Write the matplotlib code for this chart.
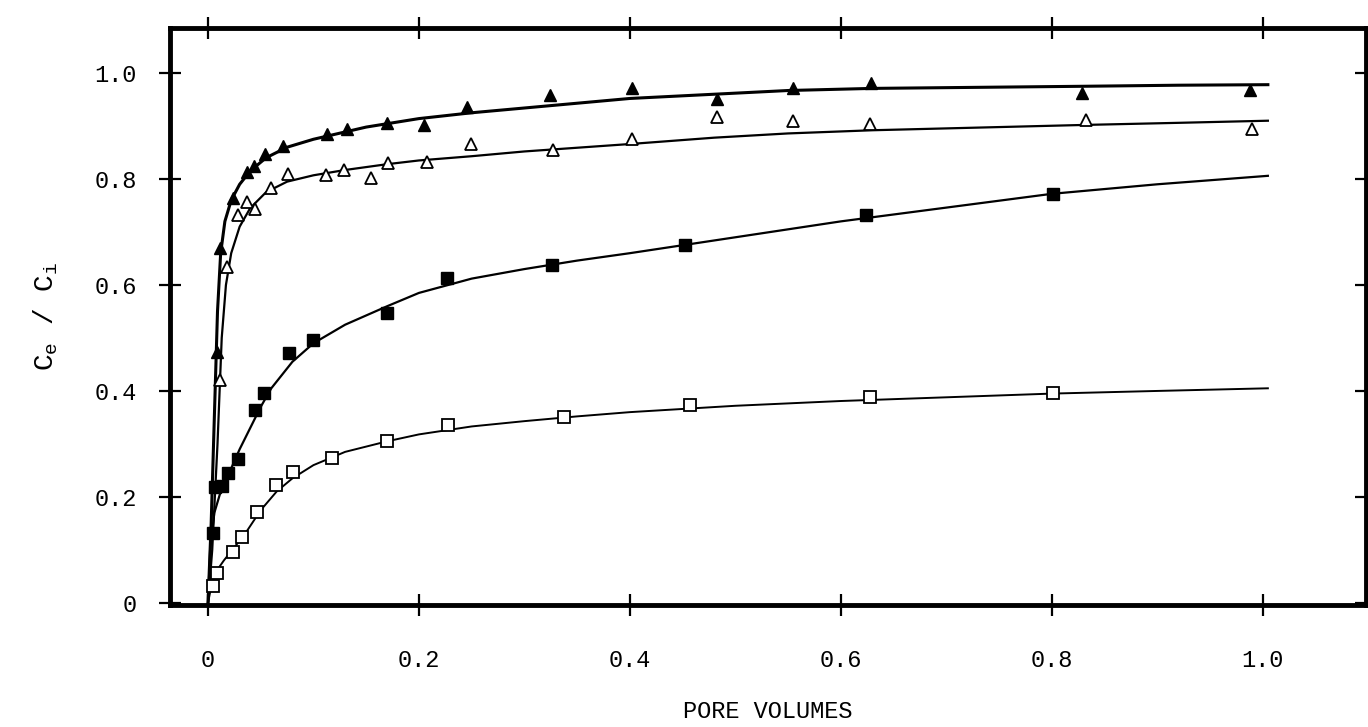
"""
Breakthrough curves: effluent / influent concentration vs. pore volumes.
"""

import matplotlib
matplotlib.use("Agg")
import matplotlib.pyplot as plt

filled_tri_x = [0.009, 0.011, 0.024, 0.037, 0.044, 0.054, 0.071, 0.113, 0.132, 0.170,
                0.205, 0.246, 0.324, 0.402, 0.483, 0.555, 0.629, 0.829, 0.988]
filled_tri_y = [0.474, 0.670, 0.764, 0.813, 0.825, 0.847, 0.862, 0.885, 0.894, 0.906,
                0.902, 0.936, 0.958, 0.972, 0.951, 0.972, 0.981, 0.962, 0.968]

open_tri_x = [0.011, 0.018, 0.028, 0.037, 0.045, 0.060, 0.076, 0.112, 0.129, 0.155,
              0.171, 0.208, 0.249, 0.327, 0.402, 0.483, 0.555, 0.628, 0.833, 0.990]
open_tri_y = [0.421, 0.634, 0.732, 0.757, 0.743, 0.783, 0.809, 0.808, 0.817, 0.802,
              0.830, 0.832, 0.866, 0.855, 0.875, 0.917, 0.909, 0.904, 0.911, 0.894]

filled_sq_x = [0.005, 0.007, 0.013, 0.019, 0.028, 0.045, 0.053, 0.077, 0.100, 0.170,
               0.227, 0.326, 0.452, 0.624, 0.801]
filled_sq_y = [0.132, 0.219, 0.221, 0.245, 0.272, 0.364, 0.396, 0.472, 0.496, 0.547,
               0.613, 0.638, 0.675, 0.732, 0.772]

open_sq_x = [0.005, 0.009, 0.024, 0.032, 0.046, 0.064, 0.081, 0.118, 0.170, 0.228,
             0.338, 0.457, 0.628, 0.801]
open_sq_y = [0.032, 0.057, 0.096, 0.125, 0.172, 0.223, 0.247, 0.274, 0.306, 0.336,
             0.351, 0.374, 0.389, 0.396]

# hand-drawn fit curves
curve_ft_x = [0.0, 0.003, 0.006, 0.009, 0.012, 0.016, 0.022, 0.030, 0.040, 0.055,
              0.075, 0.100, 0.150, 0.200, 0.250, 0.300, 0.400, 0.480, 0.550, 0.630,
              0.730, 0.830, 0.920, 1.005]
curve_ft_y = [0.0, 0.15, 0.35, 0.55, 0.66, 0.72, 0.76, 0.79, 0.815, 0.840,
              0.860, 0.875, 0.898, 0.914, 0.925, 0.934, 0.952, 0.960, 0.967, 0.971,
              0.973, 0.975, 0.977, 0.978]

curve_ot_x = [0.0, 0.004, 0.009, 0.013, 0.017, 0.022, 0.030, 0.040, 0.055, 0.075,
              0.100, 0.130, 0.170, 0.200, 0.250, 0.300, 0.400, 0.480, 0.550, 0.630,
              0.730, 0.830, 0.920, 1.005]
curve_ot_y = [0.0, 0.10, 0.30, 0.50, 0.60, 0.66, 0.71, 0.745, 0.775, 0.795,
              0.807, 0.817, 0.828, 0.835, 0.843, 0.852, 0.866, 0.878, 0.886, 0.892,
              0.897, 0.902, 0.906, 0.910]

curve_fs_x = [0.0, 0.002, 0.006, 0.012, 0.020, 0.030, 0.040, 0.050, 0.060, 0.080,
              0.100, 0.130, 0.170, 0.200, 0.250, 0.300, 0.350, 0.400, 0.450, 0.500,
              0.600, 0.700, 0.800, 0.900, 1.005]
curve_fs_y = [0.0, 0.10, 0.17, 0.21, 0.245, 0.29, 0.33, 0.37, 0.405, 0.455,
              0.490, 0.525, 0.560, 0.585, 0.612, 0.630, 0.646, 0.660, 0.675, 0.690,
              0.720, 0.746, 0.772, 0.790, 0.806]

curve_os_x = [0.0, 0.003, 0.008, 0.015, 0.025, 0.035, 0.050, 0.065, 0.080, 0.100,
              0.130, 0.170, 0.200, 0.250, 0.300, 0.350, 0.400, 0.500, 0.600, 0.700,
              0.800, 0.900, 1.005]
curve_os_y = [0.0, 0.03, 0.06, 0.08, 0.105, 0.13, 0.175, 0.21, 0.235, 0.260,
              0.285, 0.305, 0.318, 0.333, 0.343, 0.352, 0.360, 0.372, 0.381, 0.388,
              0.395, 0.400, 0.405]

tick_vals = [0.0, 0.2, 0.4, 0.6, 0.8, 1.0]
tick_labels = ["0", "0.2", "0.4", "0.6", "0.8", "1.0"]


def main() -> None:
    plt.rcParams["font.family"] = ["Liberation Mono", "DejaVu Sans Mono"]

    fig = plt.figure(figsize=(13.68, 7.27), dpi=100)
    ax = fig.add_axes([0.1243, 0.1678, 0.8742, 0.7937])

    ax.plot(curve_ft_x, curve_ft_y, color="black", lw=2.2, zorder=2)
    ax.plot(curve_ot_x, curve_ot_y, color="black", lw=1.6, zorder=2)
    ax.plot(curve_fs_x, curve_fs_y, color="black", lw=1.6, zorder=2)
    ax.plot(curve_os_x, curve_os_y, color="black", lw=1.4, zorder=2)

    ax.plot(filled_tri_x, filled_tri_y, ls="none", marker="^", ms=9,
            mfc="black", mec="black", zorder=3)
    ax.plot(open_tri_x, open_tri_y, ls="none", marker="^", ms=9,
            mfc="white", mec="black", mew=1.3, zorder=3)
    ax.plot(filled_sq_x, filled_sq_y, ls="none", marker="s", ms=8,
            mfc="black", mec="black", zorder=3)
    ax.plot(open_sq_x, open_sq_y, ls="none", marker="s", ms=8,
            mfc="white", mec="black", mew=1.3, zorder=3)

    ax.set_xlim(-0.036, 1.098)
    ax.set_ylim(-0.004, 1.085)

    ax.set_xticks(tick_vals)
    ax.set_xticklabels(tick_labels)
    ax.set_yticks(tick_vals)
    ax.set_yticklabels(tick_labels)
    ax.tick_params(axis="both", direction="inout", length=16, width=1.6,
                   labelsize=17, top=True, right=True)
    ax.tick_params(axis="x", pad=24)
    ax.tick_params(axis="y", pad=16)

    for side in ax.spines.values():
        side.set_linewidth(3.5)

    ax.set_xlabel("PORE VOLUMES", fontsize=17, labelpad=20)
    ax.set_ylabel(r"C$_{\mathregular{e}}$ / C$_{\mathregular{i}}$", fontsize=20,
                  labelpad=25)

    fig.savefig("out.png", dpi=100)
    plt.close(fig)


if __name__ == "__main__":
    main()
